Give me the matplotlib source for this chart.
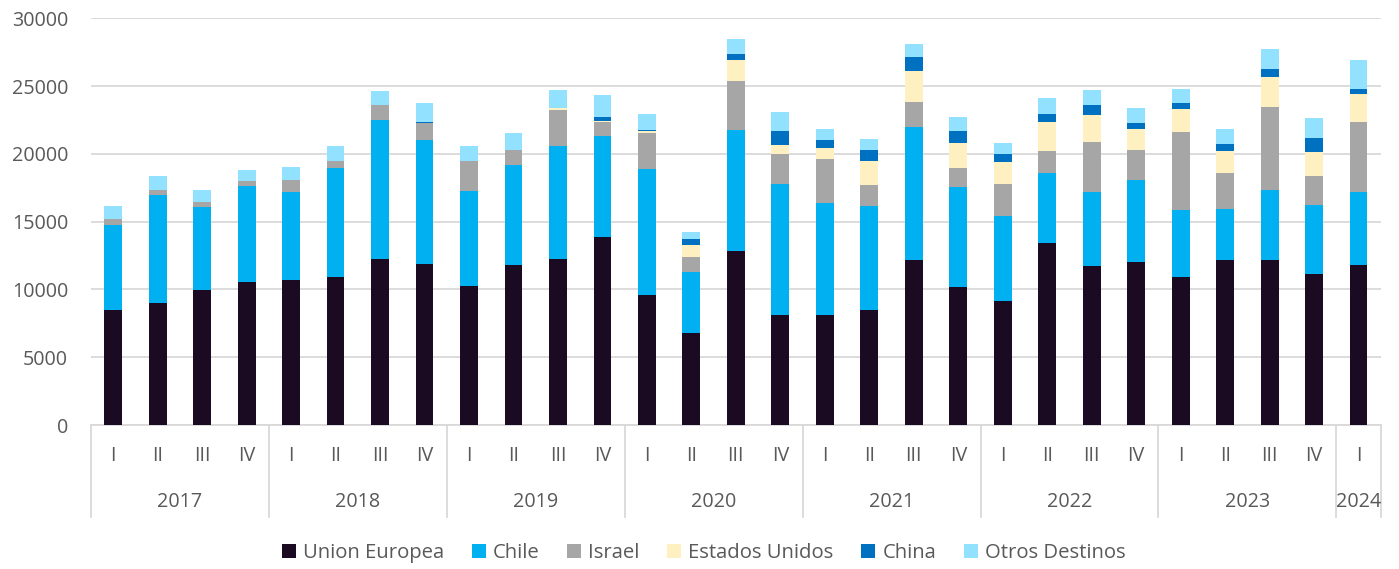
import numpy as np
import matplotlib.pyplot as plt
import matplotlib.transforms as mtransforms

plt.rcParams['font.family'] = ['Open Sans', 'DejaVu Sans']

# quarters 2017 I .. 2024 I
years = ['2017', '2018', '2019', '2020', '2021', '2022', '2023', '2024']
quarters = ['I', 'II', 'III', 'IV'] * 7 + ['I']

union_europea = [8470, 8970, 9930, 10570, 10670, 10940, 12270, 11850,
                 10270, 11770, 12220, 13840, 9610, 6820, 12810, 8080,
                 8150, 8520, 12140, 10150, 9160, 13450, 11700, 12000,
                 10910, 12140, 12140, 11110, 11770]
chile = [6280, 7980, 6130, 7040, 6500, 7980, 10220, 9190,
         6970, 7390, 8370, 7470, 9260, 4460, 8940, 9680,
         8250, 7610, 9830, 7390, 6230, 5170, 5490, 6050,
         4930, 3770, 5180, 5120, 5420]
israel = [470, 390, 370, 350, 910, 540, 1140, 1200,
          2240, 1140, 2660, 1030, 2630, 1080, 3590, 2260,
          3210, 1580, 1850, 1380, 2370, 1600, 3700, 2200,
          5740, 2640, 6150, 2140, 5150]
estados_unidos = [0, 0, 0, 0, 0, 0, 0, 0,
                  0, 0, 100, 100, 150, 940, 1580, 600,
                  830, 1770, 2310, 1890, 1600, 2140, 1970, 1600,
                  1720, 1670, 2220, 1780, 2070]
china = [0, 0, 0, 0, 0, 0, 0, 80,
         0, 0, 0, 290, 70, 440, 440, 1050,
         570, 790, 1010, 840, 660, 570, 710, 390,
         420, 490, 540, 1010, 370]
otros = [960, 1010, 930, 880, 980, 1080, 1000, 1410,
         1110, 1200, 1350, 1580, 1210, 500, 1090, 1380,
         810, 790, 940, 1080, 770, 1160, 1110, 1130,
         1030, 1090, 1480, 1450, 2120]

series = [('Union Europea', union_europea, '#1a0a22'),
          ('Chile', chile, '#00b0f0'),
          ('Israel', israel, '#a6a6a6'),
          ('Estados Unidos', estados_unidos, '#fff0c2'),
          ('China', china, '#0070c0'),
          ('Otros Destinos', otros, '#91e1ff')]

txt = '#595959'
grid = '#d9d9d9'
fs = 14.2

fig = plt.figure(figsize=(13.99, 5.69), dpi=100)
ax = fig.add_axes([0.065, 0.253, 0.922, 0.715])

x = np.arange(len(quarters))
bottom = np.zeros(len(quarters))
for name, vals, col in series:
    vals = np.array(vals, dtype=float)
    ax.bar(x, vals, 0.4, bottom=bottom, color=col, label=name, zorder=3)
    bottom += vals

ax.set_xlim(-0.5, len(quarters) - 0.5)
ax.set_ylim(0, 30000)
ax.set_yticks(np.arange(0, 30001, 5000))
ax.yaxis.grid(True, color=grid, linewidth=1.3, zorder=0)
ax.tick_params(axis='y', length=0, labelsize=fs, labelcolor=txt, pad=16.5)
ax.tick_params(axis='x', length=0, labelbottom=False)
for s in ['top', 'right', 'left']:
    ax.spines[s].set_visible(False)
ax.spines['bottom'].set_color(grid)
ax.spines['bottom'].set_linewidth(1.3)

# two-level category axis
trans = mtransforms.blended_transform_factory(ax.transData, ax.transAxes)
for i, q in enumerate(quarters):
    ax.text(i, -0.076, q, transform=trans, ha='center', va='center',
            fontsize=fs, color=txt)
for k, yr in enumerate(years):
    start = k * 4
    end = min(start + 4, len(quarters))
    ax.text((start + end - 1) / 2, -0.19, yr, transform=trans, ha='center',
            va='center', fontsize=fs, color=txt)
for b in range(0, len(quarters) + 1, 4):
    pos = min(b, len(quarters)) - 0.5
    ax.plot([pos, pos], [0, -0.227], transform=trans, color=grid,
            linewidth=1.3, clip_on=False)
ax.plot([len(quarters) - 0.5] * 2, [0, -0.227], transform=trans, color=grid,
        linewidth=1.3, clip_on=False)

leg = fig.legend(loc='center', bbox_to_anchor=(0.503, 0.028), ncol=6,
                 frameon=False, fontsize=fs + 0.4, handlelength=0.7,
                 handleheight=0.7, handletextpad=0.35, columnspacing=1.35)
for t in leg.get_texts():
    t.set_color(txt)

fig.savefig('out.png', dpi=100)
